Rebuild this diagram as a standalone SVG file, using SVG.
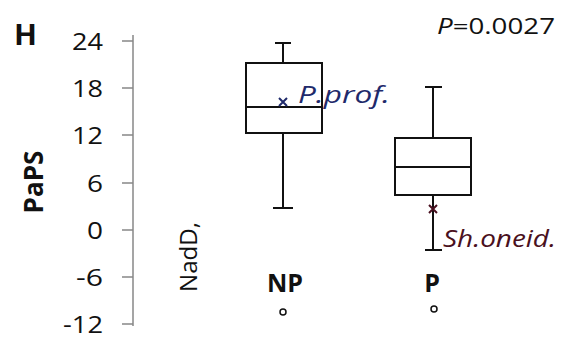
<svg xmlns="http://www.w3.org/2000/svg" width="564" height="345" viewBox="0 0 564 345">
<style>
text{font-family:"Open Sans","Liberation Sans",Arial,sans-serif;fill:#111}
.tick{font-size:23px;text-anchor:end}
.b{font-weight:bold}
.box{fill:#fff;stroke:#111;stroke-width:2}
.wh{stroke:#111;stroke-width:2;fill:none}
.ax{stroke:#888;stroke-width:1.5;fill:none}
</style>
<rect width="564" height="345" fill="#fff"/>
<text x="14" y="45" class="b" font-size="28" textLength="23" lengthAdjust="spacingAndGlyphs">H</text>
<text class="b" font-size="26" text-anchor="middle" transform="translate(43,182) rotate(-90)" textLength="63" lengthAdjust="spacingAndGlyphs">PaPS</text>
<text font-size="23" transform="translate(197,292) rotate(-90)" textLength="70" lengthAdjust="spacingAndGlyphs">NadD,</text>
<g id="axis">
<path class="ax" d="M133,35V326M122,41H133M122,88H133M122,135H133M122,183H133M122,230H133M122,277H133M122,324H133"/>
<text class="tick" x="103" y="50" textLength="31" lengthAdjust="spacingAndGlyphs">24</text>
<text class="tick" x="103" y="97" textLength="31" lengthAdjust="spacingAndGlyphs">18</text>
<text class="tick" x="103" y="144" textLength="31" lengthAdjust="spacingAndGlyphs">12</text>
<text class="tick" x="103" y="192" textLength="16" lengthAdjust="spacingAndGlyphs">6</text>
<text class="tick" x="103" y="239" textLength="16" lengthAdjust="spacingAndGlyphs">0</text>
<text class="tick" x="103" y="286" textLength="27" lengthAdjust="spacingAndGlyphs">-6</text>
<text class="tick" x="103" y="333" textLength="40" lengthAdjust="spacingAndGlyphs">-12</text>
</g>
<text x="437" y="34" font-size="22" textLength="118" lengthAdjust="spacingAndGlyphs"><tspan font-style="italic">P</tspan>=0.0027</text>
<g id="NP">
<path class="wh" d="M283,43V63M275,43H291M283,133V208M273,208H293"/>
<rect class="box" x="246" y="63" width="76" height="70"/>
<path class="wh" d="M246,107H322"/>
<path d="M279,98L287,106M287,98L279,106" stroke="#1f2a6b" stroke-width="2"/>
<text x="298" y="103" font-size="24" font-style="italic" style="fill:#1f2a6b" textLength="92" lengthAdjust="spacingAndGlyphs">P.prof.</text>
<text x="285" y="292" class="b" font-size="25" text-anchor="middle">NP</text>
<circle cx="283" cy="312" r="3" fill="none" stroke="#111" stroke-width="1.5"/>
</g>
<g id="P">
<path class="wh" d="M433,87V138M425,87H442M433,195V250M425,250H442"/>
<rect class="box" x="395" y="138" width="76" height="57"/>
<path class="wh" d="M395,167H471"/>
<path d="M429,205L437,213M437,205L429,213" stroke="#4a1020" stroke-width="2"/>
<text x="443" y="247" font-size="24" font-style="italic" style="fill:#4a1020" textLength="113" lengthAdjust="spacingAndGlyphs">Sh.oneid.</text>
<text x="432" y="292" class="b" font-size="25" text-anchor="middle">P</text>
<circle cx="434" cy="309" r="3" fill="none" stroke="#111" stroke-width="1.5"/>
</g>
</svg>
